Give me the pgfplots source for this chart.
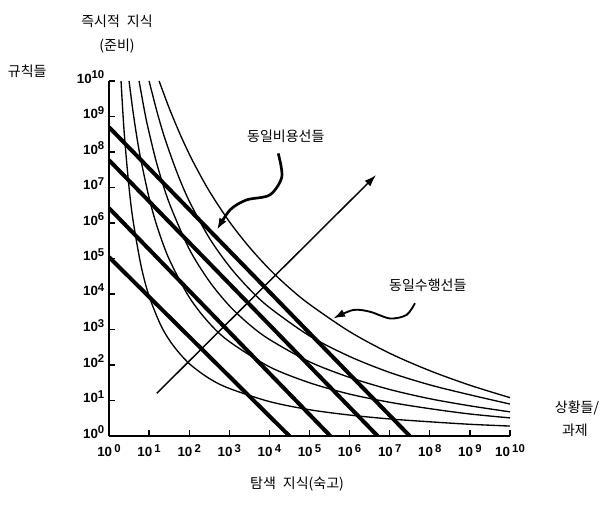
\documentclass[border=0pt]{standalone}
\usepackage{fontspec}
\usepackage{pgfplots}
\pgfplotsset{compat=1.18}
\usetikzlibrary{arrows.meta}
\newfontfamily\kr{Noto Sans CJK KR}
\newfontfamily\hv{Liberation Sans}
\newcommand\ex[1]{\raisebox{0.6ex}{\fontsize{8.5}{9}\selectfont #1}}
\newcommand\tl{\hv\bfseries\fontsize{10}{11}\selectfont}
\begin{document}
\begin{tikzpicture}[x=1pt,y=1pt]
\useasboundingbox (-81.75,-52.5) rectangle (380.25,327);
\begin{axis}[
  at={(0,0)}, anchor=south west,
  scale only axis, width=300.75pt, height=266.25pt,
  xmin=0, xmax=10, ymin=0, ymax=10,
  axis x line*=bottom, axis y line*=left,
  axis line style={-, line width=1.1pt},
  clip mode=individual,
  xtick={0,...,10}, ytick={0,...,10},
  tick align=inside, major tick length=4.5pt,
  tick style={line width=1pt, black},
  xticklabels={{\tl 10\,\ex{0}},{\tl 10\,\ex{1}},{\tl 10\,\ex{2}},{\tl 10\,\ex{3}},{\tl 10\,\ex{4}},{\tl 10\,\ex{5}},{\tl 10\,\ex{6}},{\tl 10\,\ex{7}},{\tl 10\,\ex{8}},{\tl 10\,\ex{9}},{\tl 10\,\ex{10}}},
  yticklabels={{\tl 10\ex{0}},{\tl 10\ex{1}},{\tl 10\ex{2}},{\tl 10\ex{3}},{\tl 10\ex{4}},{\tl 10\ex{5}},{\tl 10\ex{6}},{\tl 10\ex{7}},{\tl 10\ex{8}},{\tl 10\ex{9}},{\tl 10\ex{10}}},
  yticklabel style={anchor=east, yshift=3pt, xshift=0pt},
  xticklabel style={anchor=north, yshift=-3pt},
]
% iso-performance curves (thin)
\addplot[smooth, line width=1pt] coordinates {(0.30,10.0) (0.35,9.04) (0.4,8.24) (0.5,7.00) (0.6,6.07) (0.8,4.79) (1.0,3.94) (1.3,3.10) (1.6,2.55) (2.0,2.04) (2.5,1.62) (3.0,1.34) (4.0,0.97) (5.0,0.74) (6.0,0.59) (7.0,0.48) (8.0,0.40) (9.0,0.33) (10,0.28)};
\addplot[smooth, line width=1pt] coordinates {(0.50,10.0) (0.6,9.13) (0.7,8.38) (0.8,7.75) (1.0,6.71) (1.2,5.90) (1.5,4.98) (2.0,3.91) (2.5,3.18) (3.0,2.66) (4.0,1.95) (5.0,1.50) (6.0,1.18) (7.0,0.95) (8.0,0.77) (9.0,0.62) (10,0.51)};
\addplot[smooth, line width=1pt] coordinates {(0.75,10.0) (0.9,9.07) (1.0,8.55) (1.2,7.64) (1.5,6.57) (2.0,5.27) (2.5,4.36) (3.0,3.67) (3.5,3.14) (4.0,2.72) (5.0,2.09) (6.0,1.65) (7.0,1.31) (8.0,1.05) (9.0,0.85) (10,0.68)};
\addplot[smooth, line width=1pt] coordinates {(1.0,10.0) (1.2,9.12) (1.4,8.36) (1.7,7.41) (2.0,6.62) (2.5,5.58) (3.0,4.78) (3.5,4.14) (4.0,3.62) (5.0,2.82) (6.0,2.24) (7.0,1.79) (8.0,1.44) (9.0,1.16) (10,0.90)};
\addplot[smooth, line width=1pt] coordinates {(1.25,10.0) (1.5,9.24) (1.8,8.43) (2.1,7.72) (2.5,6.90) (3.0,6.04) (3.5,5.32) (4.0,4.70) (4.5,4.17) (5.0,3.71) (6.0,2.94) (7.0,2.33) (8.0,1.84) (9.0,1.43) (10,1.08)};
% iso-cost lines (thick)
\addplot[line width=3pt] coordinates {(0,8.70) (7.50,0)};
\addplot[line width=3pt] coordinates {(0,7.77) (6.70,0)};
\addplot[line width=3pt] coordinates {(0,6.42) (5.52,0)};
\addplot[line width=3pt] coordinates {(0,5.04) (4.50,0)};
% diagonal arrow
\addplot[line width=1.1pt, -{Latex[length=9pt,width=6pt]}] coordinates {(1.19,1.20) (6.66,7.35)};
% annotation arrows
\addplot[smooth, line width=2pt, -{Latex[length=9pt,width=6pt]}] coordinates {(4.22,7.96) (4.31,7.30) (4.01,6.79) (3.43,6.65) (3.02,6.37) (2.69,5.80)};
\addplot[smooth, line width=1.4pt, -{Latex[length=9pt,width=6pt]}] coordinates {(7.63,3.74) (7.42,3.41) (7.01,3.31) (6.51,3.50) (6.09,3.55) (5.59,3.31)};
% texts
\node[font=\kr\fontsize{10.5}{12}\selectfont] at (axis cs:0.20,11.69) {즉시적\hspace{0.5em}지식};
\node[font=\kr\fontsize{10.5}{12}\selectfont] at (axis cs:0.20,10.99) {(준비)};
\node[font=\kr\fontsize{10.5}{12}\selectfont] at (axis cs:-2.04,10.28) {규칙들};
\node[font=\kr\fontsize{10.5}{12}\selectfont] at (axis cs:4.41,8.45) {동일비용선들};
\node[font=\kr\fontsize{10.5}{12}\selectfont] at (axis cs:7.95,4.25) {동일수행선들};
\node[font=\kr\fontsize{10.5}{12}\selectfont] at (axis cs:4.69,-1.35) {탐색\hspace{0.5em}지식(숙고)};
\node[font=\kr\fontsize{10.5}{12}\selectfont] at (axis cs:11.67,0.79) {상황들/};
\node[font=\kr\fontsize{10.5}{12}\selectfont] at (axis cs:11.62,0.17) {과제};
\end{axis}
\end{tikzpicture}
\end{document}
